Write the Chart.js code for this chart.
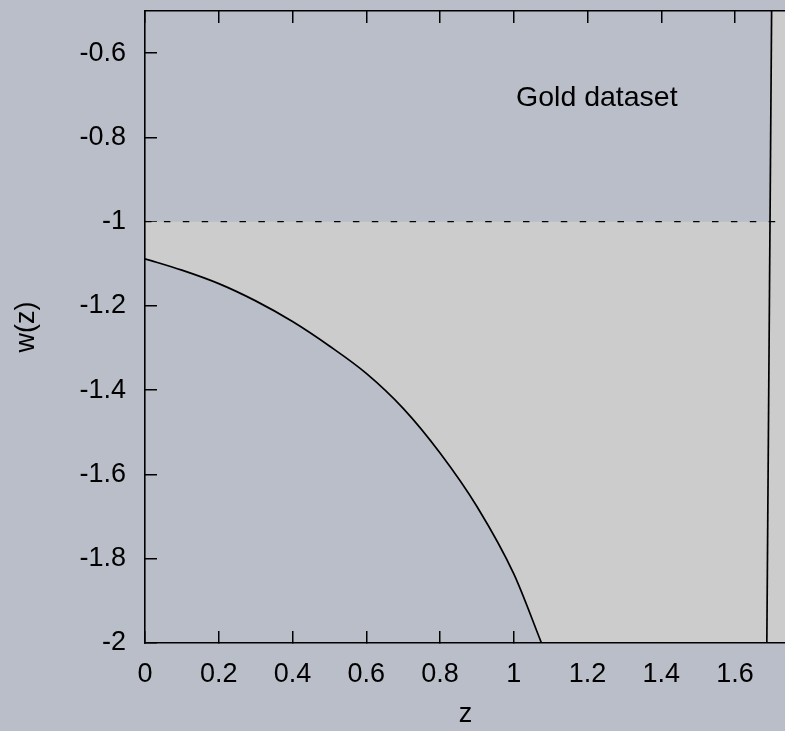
<!DOCTYPE html>
<html>
<head>
<meta charset="utf-8">
<title>w(z) - Gold dataset</title>
<script src="https://cdn.jsdelivr.net/npm/chart.js@4.4.0/dist/chart.umd.min.js"></script>
<style>
  html, body { margin: 0; padding: 0; overflow: hidden; background: #babec8; }
  canvas { display: block; }
</style>
</head>
<body>
<canvas id="wz" width="800" height="731"></canvas>
<script>
// reconstructed w(z) bound (lower edge of the allowed band)
const curveZ = [0, 0.1, 0.2, 0.3, 0.4, 0.5, 0.6, 0.7, 0.8, 0.9, 1.0, 1.075]
const curveW = [-1.088, -1.115, -1.147, -1.188, -1.237, -1.295, -1.360, -1.443, -1.549, -1.676, -1.836, -2.0]

// near-vertical bound on the right, bottom end and top end
const edgeZ = [1.686, 1.699]
const edgeW = [-2.0, -0.5]

// cosmological constant
const lambdaW = -1

const zTicks = [0, 0.2, 0.4, 0.6, 0.8, 1.0, 1.2, 1.4, 1.6]
const wTicks = [-2, -1.8, -1.6, -1.4, -1.2, -1, -0.8, -0.6]

const zMin = 0, zMax = 1.738
const wMin = -2, wMax = -0.5

const bandColor = '#cccccc'
const font = '"Liberation Sans", Arial, Helvetica, sans-serif'

// z where the right bound crosses a given w
function edgeAt(w) {
  const t = (w - edgeW[0]) / (edgeW[1] - edgeW[0])
  return edgeZ[0] + t * (edgeZ[1] - edgeZ[0])
}

const zip = (xs, ys) => xs.map((x, i) => ({x: x, y: ys[i]}))
const fmt = v => String(+(+v).toFixed(1))
const curveEnd = curveZ[curveZ.length - 1]

// band top: w = -1 up to the right bound, then the bound itself
const zCross = edgeAt(lambdaW)
const bandLeft = [
  {x: zMin, y: lambdaW},
  {x: zMax, y: lambdaW}
]
const bandRight = [
  {x: curveEnd - 0.004, y: lambdaW},
  {x: zCross, y: lambdaW},
  {x: edgeZ[1], y: edgeW[1]},
  {x: zMax, y: wMax}
]

// "Gold dataset" note inside the frame
const datasetNote = {
  id: 'datasetNote',
  afterDatasetsDraw(chart) {
    const {ctx, scales} = chart
    ctx.save()
    ctx.font = '28.5px ' + font
    ctx.fillStyle = '#000'
    ctx.textAlign = 'left'
    ctx.textBaseline = 'alphabetic'
    ctx.fillText('Gold dataset', scales.x.getPixelForValue(1.006), scales.y.getPixelForValue(-0.7255))
    ctx.restore()
  }
}

Chart.defaults.font.family = font
Chart.defaults.font.size = 27
Chart.defaults.color = '#000'

// inward tick marks; the ones sitting inside the grey band get covered by it
const zTickColor = c => (c.tick && c.tick.value > curveEnd && c.tick.value < zMax) ? bandColor : '#000'
const gridOf = color => ({drawOnChartArea: false, tickLength: -12, color: color, lineWidth: 1.5})
const frame = {color: '#000', width: 1.6, z: 1}

// fixed box sizes, no extra label padding around the plot
const noPad = axis => {
  axis.paddingTop = 0
  axis.paddingBottom = 0
  axis.paddingLeft = 0
  axis.paddingRight = 0
}

new Chart(document.getElementById('wz'), {
  type: 'line',
  data: {
    datasets: [
      {
        label: 'w = -1',
        data: [{x: zMin, y: lambdaW}, {x: zMax, y: lambdaW}],
        borderColor: '#000',
        borderWidth: 1.3,
        borderDash: [6.5, 12.4],
        pointRadius: 0,
        fill: false
      },
      {
        label: 'w(z)',
        data: zip(curveZ, curveW),
        borderColor: '#000',
        borderWidth: 1.7,
        cubicInterpolationMode: 'monotone',
        pointRadius: 0,
        fill: false
      },
      {
        label: 'edge',
        data: zip(edgeZ, edgeW),
        borderColor: '#000',
        borderWidth: 1.7,
        pointRadius: 0,
        fill: false
      },
      {
        label: 'band left',
        data: bandLeft,
        borderWidth: 0,
        pointRadius: 0,
        backgroundColor: bandColor,
        fill: 1
      },
      {
        label: 'band right',
        data: bandRight,
        borderWidth: 0,
        pointRadius: 0,
        backgroundColor: bandColor,
        fill: 'start'
      }
    ]
  },
  options: {
    responsive: false,
    devicePixelRatio: 1,
    animation: false,
    events: [],
    layout: {padding: {top: 11, right: 14, left: 0, bottom: 0}},
    plugins: {
      legend: {display: false},
      tooltip: {enabled: false}
    },
    scales: {
      x: {
        type: 'linear',
        position: 'bottom',
        min: zMin,
        max: zMax,
        afterBuildTicks: axis => { axis.ticks = zTicks.map(v => ({value: v})) },
        afterFit: axis => { axis.height = 88; noPad(axis) },
        ticks: {padding: 27, maxRotation: 0, autoSkip: false, callback: fmt},
        grid: gridOf(zTickColor),
        border: frame,
        title: {display: true, text: 'z', padding: 0}
      },
      xTop: {
        type: 'linear',
        position: 'top',
        min: zMin,
        max: zMax,
        afterBuildTicks: axis => { axis.ticks = zTicks.map(v => ({value: v})) },
        afterFit: axis => { axis.height = 0; noPad(axis) },
        ticks: {display: false},
        grid: gridOf('#000'),
        border: frame
      },
      y: {
        type: 'linear',
        position: 'left',
        min: wMin,
        max: wMax,
        afterBuildTicks: axis => { axis.ticks = wTicks.map(v => ({value: v})) },
        afterFit: axis => { axis.width = 145; noPad(axis) },
        ticks: {padding: 31, autoSkip: false, callback: fmt},
        grid: gridOf('#000'),
        border: frame,
        title: {display: true, text: 'w(z)', padding: {top: 10, bottom: 0}}
      }
    }
  },
  plugins: [datasetNote]
})
</script>
</body>
</html>
